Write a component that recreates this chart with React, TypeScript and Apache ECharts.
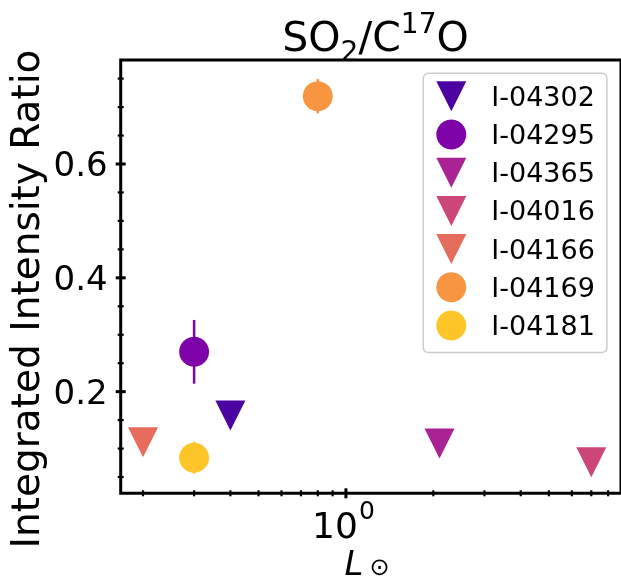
import React, { useEffect, useRef } from "react";
import * as echarts from "echarts";

// ---- data ----
const names = ["I-04302", "I-04295", "I-04365", "I-04016", "I-04166", "I-04169", "I-04181"];
const colors = ["#4c02a1", "#7e03a8", "#a92395", "#cc4778", "#e66c5c", "#f89540", "#fdc527"];
const markers = ["v", "o", "v", "v", "v", "o", "o"];
const luminosity = [0.4, 0.3, 2.1, 7.0, 0.2, 0.8, 0.3];
const ratio = [0.158, 0.270, 0.109, 0.076, 0.111, 0.719, 0.084];
const ratioErr = [0, 0.056, 0, 0, 0, 0.030, 0.028];

const xMajorTicks = [1];
const xMinorTicks = [0.2, 0.3, 0.4, 0.5, 0.6, 0.7, 0.8, 0.9, 2, 3, 4, 5, 6, 7, 8];
const yMajorTicks = [0.2, 0.4, 0.6];
const yMinorTicks = [0.05, 0.1, 0.15, 0.25, 0.3, 0.35, 0.45, 0.5, 0.55, 0.65, 0.7, 0.75];

const X_MIN = 0.1676;
const X_MAX = 8.86;
const Y_MIN = 0.0214;
const Y_MAX = 0.7827;

const FONT = "DejaVu Sans";
const DOWN_TRIANGLE = "path://M0,0L2,0L1,2Z";

export default function App() {
  const ref = useRef<HTMLDivElement>(null);
  useEffect(() => {
    if (!ref.current) return;
    const chart = echarts.init(ref.current, undefined, { renderer: "svg" });

    const scatterSeries = names.map((n, i) => ({
      type: "scatter",
      name: n,
      data: [[luminosity[i], ratio[i]]],
      symbol: markers[i] === "v" ? "triangle" : "circle",
      symbolRotate: markers[i] === "v" ? 180 : 0,
      symbolSize: 30,
      itemStyle: { color: colors[i], opacity: 1 },
      emphasis: { disabled: true },
      z: 3,
    }));

    const errData = names
      .map((_, i) => [luminosity[i], ratio[i], ratioErr[i], i])
      .filter((d) => d[2] > 0);

    const tickData: number[][] = [];
    xMajorTicks.forEach((v) => tickData.push([v, Y_MIN, 0, 1]));
    xMinorTicks.forEach((v) => tickData.push([v, Y_MIN, 0, 0]));
    yMajorTicks.forEach((v) => tickData.push([X_MIN, v, 1, 1]));
    yMinorTicks.forEach((v) => tickData.push([X_MIN, v, 1, 0]));

    const labelData: number[][] = [];
    yMajorTicks.forEach((v) => labelData.push([X_MIN, v, 1]));
    xMajorTicks.forEach((v) => labelData.push([v, Y_MIN, 0]));

    const option: any = {
      animation: false,
      title: {
        text: "{b|SO}{sub|2}{b|/C}{sup|17}{b|O}",
        left: 370.5,
        textAlign: "center",
        top: 4,
        textStyle: {
          fontWeight: "normal",
          rich: {
            b: { fontSize: 41, fontFamily: FONT, fontWeight: "normal", color: "#000", lineHeight: 56 },
            sub: { fontSize: 28, fontFamily: FONT, fontWeight: "normal", color: "#000", lineHeight: 28, verticalAlign: "bottom" },
            sup: { fontSize: 28, fontFamily: FONT, fontWeight: "normal", color: "#000", lineHeight: 28, verticalAlign: "top" },
          },
        },
      },
      grid: {
        left: 120.7,
        top: 60,
        width: 510,
        height: 433.3,
        show: true,
        borderColor: "#000",
        borderWidth: 3,
        backgroundColor: "transparent",
      },
      xAxis: {
        type: "log",
        logBase: 10,
        min: X_MIN,
        max: X_MAX,
        axisLine: { show: false },
        axisTick: { show: false },
        axisLabel: { show: false },
        splitLine: { show: false },
        minorTick: { show: false },
        minorSplitLine: { show: false },
      },
      yAxis: {
        type: "value",
        min: Y_MIN,
        max: Y_MAX,
        axisLine: { show: false },
        axisTick: { show: false },
        axisLabel: { show: false },
        splitLine: { show: false },
      },
      legend: {
        data: names.map((n, i) => ({
          name: n,
          icon: markers[i] === "v" ? DOWN_TRIANGLE : "circle",
        })),
        orient: "vertical",
        left: 423.3,
        top: 73.3,
        padding: [8, 12, 12, 13],
        itemGap: 8.2,
        itemWidth: 30,
        itemHeight: 30,
        selectedMode: false,
        backgroundColor: "rgba(255,255,255,0.8)",
        borderColor: "#cccccc",
        borderWidth: 1.5,
        borderRadius: 5,
        textStyle: {
          fontSize: 27,
          fontFamily: FONT,
          color: "#000",
          lineHeight: 30,
          padding: [0, 0, 0, 20],
        },
      },
      graphic: [
        {
          type: "text",
          x: 25,
          y: 299,
          rotation: Math.PI / 2,
          style: {
            text: "Integrated Intensity Ratio",
            fontSize: 39,
            fontFamily: FONT,
            fill: "#000",
            align: "center",
            verticalAlign: "middle",
          },
        },
        {
          type: "text",
          x: 367,
          y: 563,
          style: {
            text: "{i|L}{s|⊙}",
            align: "center",
            verticalAlign: "middle",
            rich: {
              i: { fontSize: 34, fontFamily: FONT, fontStyle: "italic", fill: "#000", lineHeight: 32 },
              s: { fontSize: 24, fontFamily: FONT, fill: "#000", lineHeight: 20, verticalAlign: "bottom", padding: [0, 0, 0, 6] },
            },
          },
        },
      ],
      series: [
        {
          type: "custom",
          name: "errorbars",
          data: errData,
          clip: false,
          z: 2,
          encode: { x: 0, y: 1 },
          renderItem: (params: any, api: any) => {
            const x = api.value(0);
            const y = api.value(1);
            const e = api.value(2);
            const ci = api.value(3);
            const p1 = api.coord([x, y - e]);
            const p2 = api.coord([x, y + e]);
            return {
              type: "line",
              shape: { x1: p1[0], y1: p1[1], x2: p2[0], y2: p2[1] },
              style: { stroke: colors[ci], lineWidth: 2.5 },
            };
          },
        },
        ...scatterSeries,
        {
          type: "custom",
          name: "ticks",
          data: tickData,
          clip: false,
          z: 5,
          encode: { x: 0, y: 1 },
          renderItem: (params: any, api: any) => {
            const p = api.coord([api.value(0), api.value(1)]);
            const isY = api.value(2) === 1;
            const major = api.value(3) === 1;
            const half = major ? 5 : 3;
            const w = major ? 3 : 2.2;
            const shape = isY
              ? { x1: p[0] - half, y1: p[1], x2: p[0] + half, y2: p[1] }
              : { x1: p[0], y1: p[1] - half, x2: p[0], y2: p[1] + half };
            return { type: "line", shape, style: { stroke: "#000", lineWidth: w } };
          },
        },
        {
          type: "custom",
          name: "ticklabels",
          data: labelData,
          clip: false,
          z: 5,
          encode: { x: 0, y: 1 },
          renderItem: (params: any, api: any) => {
            const vx = api.value(0);
            const vy = api.value(1);
            const p = api.coord([vx, vy]);
            if (api.value(2) === 1) {
              return {
                type: "text",
                x: p[0] - 13,
                y: p[1],
                style: {
                  text: vy.toFixed(1),
                  fontSize: 34,
                  fontFamily: FONT,
                  fill: "#000",
                  align: "right",
                  verticalAlign: "middle",
                },
              };
            }
            const exp = Math.round(Math.log10(vx));
            return {
              type: "group",
              children: [
                {
                  type: "text",
                  x: p[0] + 12,
                  y: p[1] + 32,
                  style: { text: "10", fontSize: 36, fontFamily: FONT, fill: "#000", align: "right", verticalAlign: "middle" },
                },
                {
                  type: "text",
                  x: p[0] + 13,
                  y: p[1] + 17,
                  style: { text: String(exp), fontSize: 25, fontFamily: FONT, fill: "#000", align: "left", verticalAlign: "middle" },
                },
              ],
            };
          },
        },
      ],
    };
    chart.setOption(option);
    return () => chart.dispose();
  }, []);
  return (
    <div
      ref={ref}
      style={{ position: "fixed", left: 0, top: 0, width: 621, height: 582 }}
    />
  );
}
